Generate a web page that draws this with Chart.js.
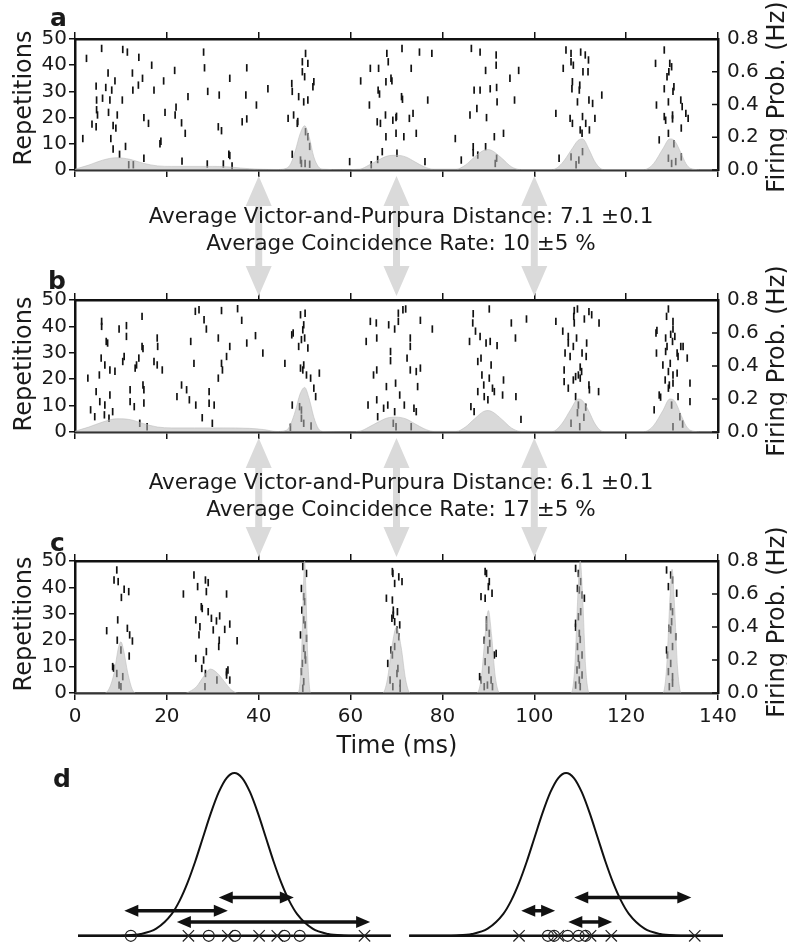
<!DOCTYPE html>
<html>
<head>
<meta charset="utf-8">
<script src="https://cdn.jsdelivr.net/npm/chart.js@4.4.1/dist/chart.umd.min.js"></script>
<style>
  body { margin: 0; background: #fff; }
  #fig { position: relative; width: 787px; height: 945px; overflow: hidden; font-family: "DejaVu Sans", sans-serif; color: #1a1a1a; }
  #fig canvas { position: absolute; }
  .lbl { position: absolute; white-space: nowrap; }
  .letter { font-weight: bold; font-size: 25px; line-height: 25px; }
  .rot { font-size: 24px; transform: translate(-50%, -50%) rotate(-90deg); }
  .xlab { font-size: 24px; transform: translate(-50%, -50%); }
  .note { font-size: 21.5px; line-height: 27px; text-align: center; transform: translateX(-50%); }
</style>
</head>
<body>
<div id="fig">
  <canvas id="panelA" width="787" height="200" style="left:0;top:0"></canvas>
  <canvas id="panelB" width="787" height="201" style="left:0;top:261px"></canvas>
  <canvas id="panelC" width="787" height="221" style="left:0;top:522px"></canvas>
  <canvas id="gapAB" width="787" height="120" style="left:0;top:176px"></canvas>
  <canvas id="gapBC" width="787" height="119" style="left:0;top:438px"></canvas>
  <canvas id="panelDL" width="400" height="185" style="left:0;top:760px"></canvas>
  <canvas id="panelDR" width="387" height="185" style="left:400px;top:760px"></canvas>

  <div class="lbl letter" style="left:50px;top:5px">a</div>
  <div class="lbl letter" style="left:48px;top:268px">b</div>
  <div class="lbl letter" style="left:50px;top:530px">c</div>
  <div class="lbl letter" style="left:53px;top:766px">d</div>

  <div class="lbl rot" style="left:23px;top:98px">Repetitions</div>
  <div class="lbl rot" style="left:23px;top:364px">Repetitions</div>
  <div class="lbl rot" style="left:23px;top:624px">Repetitions</div>
  <div class="lbl rot" style="left:776px;top:97px">Firing Prob. (Hz)</div>
  <div class="lbl rot" style="left:776px;top:361px">Firing Prob. (Hz)</div>
  <div class="lbl rot" style="left:776px;top:622px">Firing Prob. (Hz)</div>
  <div class="lbl xlab" style="left:397px;top:745px">Time (ms)</div>

  <div class="lbl note" style="left:401px;top:202px">Average Victor-and-Purpura Distance: 7.1 ±0.1<br>Average Coincidence Rate: 10 ±5 %</div>
  <div class="lbl note" style="left:401px;top:468px">Average Victor-and-Purpura Distance: 6.1 ±0.1<br>Average Coincidence Rate: 17 ±5 %</div>
</div>

<script>
// Axis ticks
const repTicks = [0, 10, 20, 30, 40, 50];
const probTicks = [0, 0.2, 0.4, 0.6, 0.8];
const timeTicks = [0, 20, 40, 60, 80, 100, 120, 140];

// Gray arrows linking the panels (ms)
const arrowTimes = [40, 70, 100];

// Firing probability curves (ms, Hz)
const rateTimesA = [0, 3, 6, 9, 12, 15, 18, 21, 25, 30, 33, 36, 40, 44, 46, 47, 48, 49, 50, 51, 52, 53, 54, 58, 62, 64, 66, 68, 70, 72, 74, 76, 78, 83, 85, 87, 89, 90, 91, 93, 95, 97, 104, 106, 108, 109.5, 110.5, 112, 113, 114, 115, 124, 126, 128, 129.5, 130.5, 132, 133, 134, 136, 140];
const rateA = [0.005, 0.03, 0.06, 0.075, 0.065, 0.04, 0.025, 0.022, 0.022, 0.022, 0.02, 0.012, 0.005, 0.003, 0.01, 0.04, 0.12, 0.22, 0.27, 0.2, 0.08, 0.02, 0.005, 0.002, 0.005, 0.03, 0.06, 0.085, 0.09, 0.08, 0.05, 0.02, 0.005, 0.005, 0.03, 0.08, 0.12, 0.125, 0.115, 0.07, 0.02, 0.003, 0.003, 0.04, 0.12, 0.18, 0.19, 0.12, 0.06, 0.02, 0.003, 0.003, 0.04, 0.13, 0.19, 0.18, 0.1, 0.04, 0.01, 0.002, 0.002];

const rateTimesB = [0, 3, 6, 9, 12, 15, 18, 21, 26, 32, 38, 41, 44, 46, 47, 48, 49, 50, 51, 52, 53, 54, 60, 62, 64, 66, 68, 70, 72, 74, 76, 78, 83, 85, 87, 89, 90, 91, 93, 95, 97, 104, 106, 108, 109.5, 110.5, 112, 113, 114, 115, 124, 126, 128, 129.5, 130.5, 132, 133, 134, 136, 140];
const rateB = [0.005, 0.03, 0.06, 0.08, 0.075, 0.05, 0.03, 0.025, 0.025, 0.025, 0.022, 0.015, 0.003, 0.01, 0.05, 0.13, 0.23, 0.27, 0.2, 0.09, 0.02, 0.003, 0.002, 0.005, 0.03, 0.06, 0.085, 0.09, 0.08, 0.05, 0.02, 0.004, 0.004, 0.03, 0.08, 0.125, 0.13, 0.12, 0.075, 0.025, 0.004, 0.004, 0.05, 0.14, 0.2, 0.19, 0.12, 0.06, 0.02, 0.003, 0.003, 0.04, 0.13, 0.2, 0.19, 0.1, 0.04, 0.01, 0.002, 0.002];

const rateTimesC = [0, 6.5, 7.5, 8.5, 9.5, 10, 10.5, 11.5, 12.5, 13.5, 24, 25, 26.5, 28, 29.5, 31, 32.5, 34, 35.5, 48.5, 49.3, 49.7, 50, 50.3, 50.7, 51.3, 67, 68, 69, 70, 71, 72, 73, 87.5, 88.5, 89.3, 90, 90.7, 91.5, 92.5, 108, 108.8, 109.5, 110, 110.5, 111.2, 112, 128, 128.8, 129.5, 130, 130.5, 131.2, 132, 140];
const rateC = [0, 0, 0.03, 0.12, 0.28, 0.31, 0.27, 0.12, 0.02, 0, 0, 0.01, 0.04, 0.1, 0.145, 0.12, 0.07, 0.02, 0, 0, 0.2, 0.6, 0.8, 0.6, 0.2, 0, 0, 0.08, 0.28, 0.4, 0.28, 0.08, 0, 0, 0.1, 0.35, 0.5, 0.35, 0.1, 0, 0, 0.15, 0.6, 0.8, 0.6, 0.15, 0, 0, 0.15, 0.55, 0.75, 0.55, 0.15, 0, 0];

// Spike rasters [time (ms), repetition]
const spikesA = [
  [2.5, 42.6], [5.8, 46.4], [10.4, 46], [11.4, 45], [13.9, 43], [16.7, 40], [21.7, 38], [28, 45], [28.2, 39], [37.4, 39],
  [7.2, 37], [8.7, 34], [12.5, 37], [14.7, 35], [19.3, 34], [33.7, 35],
  [4.6, 32], [6.7, 31.5], [8, 30.5], [13.8, 32.4], [12.6, 30.5], [17.2, 30.5], [28.9, 30], [31.4, 28.6], [37.2, 28.6], [42, 31], [24.6, 28],
  [4.7, 26.7], [4.7, 23], [4.9, 21], [7.6, 26.7], [10.3, 26.7], [6, 27.4], [22, 24], [19.6, 22], [21.8, 21], [7.3, 22], [9.2, 21], [39.5, 24.8],
  [15, 20], [16, 17.8], [23.2, 18], [3.7, 17.5], [4.6, 16.5], [8.3, 17], [8.9, 16], [31.2, 16.5], [31.9, 15], [24, 14], [36.4, 18.4], [37.4, 19.5],
  [1.7, 12], [7.8, 12], [11, 9], [18.5, 10], [18.7, 11], [8.3, 8], [9.7, 6], [33.5, 6], [33.7, 5.5], [15, 4.5], [23.3, 3.4], [12.7, 2], [11.7, 2], [28.8, 2.3], [32.3, 2.3], [34.2, 1.5], [59.8, 3.2],
  [47.2, 33], [47.3, 30], [49.5, 41.3], [50.2, 44.5], [50.7, 40.7], [49.5, 37.5], [50, 35.6], [52, 33.7], [51.8, 31.8], [49.8, 26], [50.7, 26.7], [48.7, 28],
  [46.4, 19.7], [47.6, 21], [48.4, 17.8], [48.5, 18.5], [50.2, 14.6], [50.7, 12.7], [51.1, 9], [47.3, 6], [49.1, 3.8], [49.3, 2.5], [51.1, 2.2], [50.1, 2.5],
  [62.2, 34], [64.3, 38.8], [66.1, 38.8], [67.9, 44.5], [68.2, 41.3], [64.1, 24.8], [66, 30.5], [66.3, 29], [67.7, 33.7], [68.8, 35], [65.8, 18.4], [66.5, 17.8],
  [67.7, 12.7], [66.9, 7], [65.9, 4], [64.5, 2], [69.9, 20], [69.9, 14], [71.2, 46.4], [75, 45], [77.7, 44.5], [73.2, 38.8], [69, 34], [71.1, 28], [71.3, 27],
  [76.8, 26.7], [67.6, 21], [69.2, 19], [70, 20.5], [72.8, 19.7], [73.6, 21.6], [71.6, 12.7], [74.3, 14], [70.1, 6.4], [76.2, 3.2],
  [86.3, 46.4], [88.2, 45], [91.7, 43.9], [91.7, 40], [89.4, 38], [96.6, 38], [94.7, 35], [86.9, 30.5], [88.2, 30.5], [90.4, 31], [91.8, 31.5], [95.7, 26.7],
  [87.5, 23.5], [89.6, 20], [91.9, 26], [86, 21], [91.3, 12.7], [93.3, 14], [82.8, 12], [86.7, 8.9], [86.7, 6.6], [89.4, 8.9], [84.1, 3.8], [87.7, 5.7], [91.8, 4.5], [91.5, 2.5],
  [106.9, 45.8], [108, 44.5], [110.1, 45], [111.1, 43.9], [108, 41.3], [108.5, 40], [106.3, 38.8], [111.8, 42], [110.6, 37.5], [111.7, 37.5], [108.3, 33.7], [108.2, 31],
  [109.9, 32.4], [109.8, 30.5], [111.9, 26.7], [112.7, 25.4], [109.4, 26], [114.7, 28.6], [104.7, 21.6], [107.8, 19.7], [108.3, 17.8], [110.5, 20.4], [111.2, 17.8],
  [113.2, 19.7], [110, 15.3], [110.4, 14], [112, 15.3], [105.4, 4.5], [108, 5], [109.7, 3.8], [109.1, 2], [110.5, 7],
  [128.3, 45.8], [126.4, 40.7], [129.5, 40.7], [129.9, 39.4], [129.3, 37.5], [128.9, 35.6], [130.4, 31.8], [130.2, 30], [128.3, 31], [126.6, 24.8], [129.2, 26],
  [131.9, 26.7], [132.2, 24.2], [128.3, 20.4], [128.6, 19], [130.1, 21], [130.1, 19.5], [133, 21.6], [133.5, 19.7], [132, 16], [129.2, 14], [127.2, 11.5],
  [130.4, 10], [129.9, 2.5], [130.8, 3.2], [132, 5], [129.2, 4.5]
];

const spikesB = [
  [2.8, 20.4], [3.4, 8.4], [4.3, 5.8], [4.6, 15.3], [5.3, 21.6], [5.8, 41.9], [5.8, 40], [5.7, 28], [6.5, 25.4], [6.5, 10.2], [6.4, 6.5], [7.4, 5.2],
  [6.8, 34.3], [7.1, 33.7], [7.6, 23.5], [7.6, 14], [5.4, 11.5], [8.2, 7.7], [8.7, 23], [9.6, 39], [10.7, 28.6], [10.4, 26.7], [11.2, 40.3], [11.2, 36.2],
  [12, 16], [12, 11.5], [12.9, 9.6], [13.1, 24.2], [13.4, 25.4], [13.9, 28], [14.6, 43.8], [14.6, 32.4], [14.8, 31.6], [14.8, 17.8], [15, 16], [15, 11],
  [14.1, 3.3], [15.7, 2], [17.2, 26.7], [17.9, 25.4], [17.9, 35.6], [18, 32.4], [19, 23.5], [22.2, 13.4], [23.2, 17.8], [24.3, 16], [24.9, 12.2],
  [25.2, 34.3], [25.9, 26], [26.2, 45.7], [27, 46.3], [26.3, 10.2], [27.7, 5.4], [28.1, 42.5], [28.6, 39], [29.2, 15.3], [29.2, 10.9], [30.3, 10.2],
  [29.9, 3.3], [31.2, 20.4], [31.2, 35.6], [31.9, 46], [31.9, 26], [32.1, 23.5], [33, 28.6], [33.7, 32.4], [35.4, 46.7], [36.3, 42.3], [37.4, 33.7],
  [39.3, 36.5], [40.9, 29.9],
  [45.7, 26], [47.2, 36.8], [47.5, 37.5], [48.7, 32.4], [49.1, 44.4], [50.1, 45], [49.8, 40.6], [49.6, 38.7], [49.3, 35], [50, 35.6], [50.7, 31.8],
  [49.1, 24.2], [49.6, 23.5], [49.8, 25.4], [50.4, 21.6], [51.3, 20.4], [53.2, 22.3], [52, 16.6], [52.4, 13.4], [47.3, 10.2], [48.9, 9.6], [49.3, 8.3],
  [49.3, 5.2], [49.8, 3.3], [51.4, 2.3], [46.9, 1.8],
  [63.4, 34.3], [63.8, 10.2], [64.3, 41.9], [65.6, 41.3], [65.7, 35.6], [65, 21.6], [65.7, 23.5], [65.7, 12.2], [65.9, 5.8], [67.2, 9], [68.1, 10.2],
  [68.3, 40.6], [69.6, 39], [70.4, 45], [70.4, 41.9], [71.4, 46.3], [72, 46.6], [68.7, 30.5], [68.7, 27], [69.8, 18.5], [70.7, 14], [69.6, 7.7],
  [69.3, 3.3], [71.7, 10.2], [72.3, 28], [73, 35.6], [73, 32.4], [73, 23.5], [74.3, 22.9], [75.2, 24.2], [74.6, 17.2], [73.8, 9], [74.3, 7.7],
  [73.2, 2], [75.2, 42.3], [77.8, 39], [69.9, 2], [67.8, 17.2],
  [86.7, 44.8], [90.2, 46.6], [86.6, 41.3], [87.2, 38.2], [88.2, 36.2], [85.9, 34.3], [89.5, 33.7], [90.4, 34.3], [91.9, 32.7], [95, 41.3], [95.9, 35.6],
  [98.3, 42.8], [87.7, 26.7], [88.4, 28], [88.6, 21.6], [90.6, 25.4], [90.2, 20.4], [89, 17.8], [90.9, 16.6], [93.3, 19.7], [87.7, 15.3], [89.1, 13.4],
  [89.9, 12.2], [91.3, 15.3], [93.1, 14], [96, 13.4], [86.2, 9.6], [86.9, 7.7], [97.1, 4.8],
  [104.7, 41.9], [108.7, 46], [109.4, 46.6], [108.6, 43.8], [111.9, 45.6], [112.5, 44.4], [110.9, 42.8], [114.1, 41.3], [108.7, 41.3], [106.2, 38.2],
  [107.4, 36.2], [107.4, 33.7], [109.2, 35.6], [111.4, 33.7], [108.5, 32.4], [106.7, 29.9], [107.8, 28.6], [110.4, 29.9], [111.3, 28.6], [110, 24.6],
  [110.3, 22.9], [106.5, 23.5], [109, 21], [109.6, 21.6], [108.5, 19.7], [106.5, 19.1], [107.4, 16.6], [110, 20.4], [111.9, 17.8], [112, 16], [114, 15.3],
  [109, 13.4], [109.6, 10.2], [111.2, 9.4], [109.4, 7.3], [110.8, 5.6], [108, 3.3], [109.9, 2],
  [129.2, 46.6], [128.8, 43.8], [130.2, 41.9], [130.2, 39], [126.5, 37.5], [126.7, 38.5], [129.7, 37], [130.6, 36.2], [128.6, 35.6], [130.1, 34.3],
  [131.9, 32.4], [132.4, 32.4], [128.9, 32.4], [128.6, 30.5], [126.6, 29.9], [131.1, 29.9], [131.3, 28.6], [133.3, 28], [129.6, 26], [128, 25.4],
  [129.2, 22.9], [130.2, 21.6], [131.1, 22.3], [128.5, 19.7], [129.4, 17.8], [130.2, 18.5], [129.2, 16.6], [133.9, 18.5], [127.2, 14], [127.5, 13.2],
  [131.3, 13.4], [133.9, 11.5], [126.1, 8.4], [129.9, 10.2], [131.7, 5.8], [130.2, 2], [132.3, 3]
];

const spikesC = [
  [9.1, 46.6], [8.5, 42.8], [9.4, 42.2], [10.7, 39.3], [11.7, 38.4], [10.1, 36.2], [9.3, 27.7], [6.9, 23.6], [11.4, 24.5], [11.9, 22], [12.5, 19.7],
  [9.2, 20], [10, 16.3], [11.8, 14], [8.2, 10], [8.4, 9.4], [9.1, 7.4], [10.4, 6.2], [9.6, 3], [10, 2.4],
  [25.9, 44.7], [26.7, 40.3], [28.4, 42.8], [29, 41.8], [28.6, 38.4], [23.6, 37.5], [33, 37.5], [27.5, 32.7], [27.7, 32], [29, 30.8], [26.3, 27.7],
  [29.7, 28.3], [31.5, 29.2], [30.8, 27.3], [33.7, 26.1], [27.2, 25.1], [30.1, 23.9], [27, 22], [32.6, 24.1], [31.4, 20], [35.3, 19.8], [28.6, 15.7],
  [31.3, 17.6], [28, 12.5], [26.3, 13.1], [27.6, 9.3], [28.4, 7.4], [33, 8], [33.3, 8.7], [33.7, 4.9], [33, 6.8], [30.9, 4.9], [28.3, 2.4],
  [49.6, 47.9], [50.4, 45.3], [49.3, 39.6], [49.8, 36.5], [50, 34.6], [49.4, 31.4], [49.8, 27.7], [50.1, 25.8], [49.1, 22], [50.4, 20.7], [49.8, 16.9],
  [50.1, 14.4], [49.5, 11.2], [49.3, 8.1], [49.8, 4.3], [49.6, 1.8], [50.2, 12.5],
  [69.1, 46], [69.6, 41.5], [69.2, 45.3], [70.5, 44], [71.2, 42.2], [67.8, 35.9], [69.1, 35.2], [69.3, 31.4], [69.3, 29.5], [70.2, 30.8], [69, 28.3],
  [69.6, 27], [70.7, 25.8], [70.5, 21.3], [70.1, 23.9], [68.1, 11.2], [69.6, 17.6], [69.1, 14.4], [70.3, 9.3], [68.6, 4.9], [69.2, 2.4], [70.8, 3.7],
  [70.8, 1.8], [70.1, 7.4], [68.8, 16.3],
  [89.3, 46], [89.6, 45.3], [90.2, 42.2], [90, 40.3], [88.4, 36.5], [89.3, 35.9], [90.8, 37.8], [89.6, 27.7], [89.6, 24.9], [90.2, 22.6], [89.1, 20],
  [90.3, 18.8], [91.3, 14.4], [91.7, 15], [89.9, 16.3], [88.1, 6.2], [88.4, 4.9], [89.3, 11.9], [90.1, 8.7], [90.6, 4.9], [89.8, 3], [89.1, 2.4], [90.9, 2.4],
  [109, 47.2], [109.6, 45.3], [110.1, 42.2], [109.4, 39.6], [109.8, 39], [110.9, 35.9], [110.4, 37.1], [109, 26.4], [109, 24.9], [110.1, 30.8],
  [109.6, 28.9], [109.8, 22.6], [110, 20.3], [109.4, 17.6], [110.4, 14.4], [109.6, 13.1], [109.8, 10.6], [109.3, 8.7], [110.4, 6.8], [109.8, 4.9],
  [110, 2.4], [109, 3],
  [128.8, 46.6], [129.7, 44.7], [130.1, 42.8], [129.2, 40.3], [131, 37.8], [129.7, 32.7], [130.1, 30.8], [129.9, 27], [129.3, 24.5], [129.7, 23.9],
  [130.8, 21.3], [128.8, 16.3], [129, 14.4], [130.1, 17.6], [129.7, 11.2], [129.2, 8.1], [130.1, 6.2], [130.1, 3.7], [129.4, 2.4]
];

// Panel d: Gaussian kernel and spike pairs
const kernelX = [0, 0.5, 1, 1.5, 2, 2.5, 3, 3.25, 3.5, 3.75, 4, 4.25, 4.5, 4.75, 5, 5.25, 5.5, 5.75, 6, 6.25, 6.5, 6.75, 7, 7.5, 8, 8.5, 9, 9.5, 10];
const kernelY = [0, 0, 0.0003, 0.002, 0.011, 0.044, 0.135, 0.216, 0.325, 0.458, 0.607, 0.755, 0.882, 0.969, 1, 0.969, 0.882, 0.755, 0.607, 0.458, 0.325, 0.216, 0.135, 0.044, 0.011, 0.002, 0.0003, 0, 0];

const circlesLeft = [1.69, 4.18, 5.02, 6.6, 7.09];
const crossesLeft = [3.53, 4.79, 5.79, 6.37, 9.16];
const arrowFromLeft = [1.48, 4.5, 3.16];
const arrowToLeft = [4.79, 6.9, 9.34];
const arrowLevelLeft = [0.154, 0.236, 0.085];

const circlesRight = [4.42, 4.62, 5.05, 5.4, 5.62];
const crossesRight = [3.5, 4.75, 5.78, 6.44, 9.1];
const arrowFromRight = [5.26, 3.57, 5.07];
const arrowToRight = [8.99, 4.65, 6.47];
const arrowLevelRight = [0.236, 0.154, 0.085];

Chart.defaults.font.family = "'DejaVu Sans', sans-serif";
Chart.defaults.color = "#1a1a1a";

const FILL = "rgba(185, 185, 185, 0.55)";
const TICK_FONT = { family: "'DejaVu Sans', sans-serif", size: 20 };

// Right axis ticks point into the plot
const inwardTicks = {
  id: "inwardTicks",
  afterDraw(chart) {
    const s = chart.scales.y1;
    if (!s) return;
    const ctx = chart.ctx;
    ctx.save();
    ctx.strokeStyle = "#111";
    ctx.lineWidth = 1.5;
    s.ticks.forEach((t) => {
      const py = s.getPixelForValue(t.value);
      ctx.beginPath();
      ctx.moveTo(s.left, py);
      ctx.lineTo(s.left - 6, py);
      ctx.stroke();
    });
    ctx.restore();
  },
};

// Big light gray double arrows between panels
const grayArrows = {
  id: "grayArrows",
  afterDatasetsDraw(chart, args, opts) {
    const { ctx } = chart;
    const x = chart.scales.x;
    const y = chart.scales.y;
    const top = y.getPixelForValue(1);
    const bot = y.getPixelForValue(0);
    const head = 30, hw = 13, sw = 3.5;
    ctx.save();
    ctx.fillStyle = "#dadada";
    opts.times.forEach((t) => {
      const px = x.getPixelForValue(t);
      ctx.beginPath();
      ctx.moveTo(px, top);
      ctx.lineTo(px + hw, top + head);
      ctx.lineTo(px + sw, top + head);
      ctx.lineTo(px + sw, bot - head);
      ctx.lineTo(px + hw, bot - head);
      ctx.lineTo(px, bot);
      ctx.lineTo(px - hw, bot - head);
      ctx.lineTo(px - sw, bot - head);
      ctx.lineTo(px - sw, top + head);
      ctx.lineTo(px - hw, top + head);
      ctx.closePath();
      ctx.fill();
    });
    ctx.restore();
  },
};

// Black double arrows in panel d
const pairArrows = {
  id: "pairArrows",
  afterDatasetsDraw(chart, args, opts) {
    const { ctx } = chart;
    const x = chart.scales.x;
    const y = chart.scales.y;
    const head = 14, hw = 6;
    ctx.save();
    ctx.fillStyle = "#111";
    ctx.strokeStyle = "#111";
    ctx.lineWidth = 3.5;
    opts.from.forEach((f, i) => {
      const x1 = x.getPixelForValue(f);
      const x2 = x.getPixelForValue(opts.to[i]);
      const py = y.getPixelForValue(opts.level[i]);
      ctx.beginPath();
      ctx.moveTo(x1 + head - 1, py);
      ctx.lineTo(x2 - head + 1, py);
      ctx.stroke();
      ctx.beginPath();
      ctx.moveTo(x1, py);
      ctx.lineTo(x1 + head, py - hw);
      ctx.lineTo(x1 + head, py + hw);
      ctx.closePath();
      ctx.fill();
      ctx.beginPath();
      ctx.moveTo(x2, py);
      ctx.lineTo(x2 - head, py - hw);
      ctx.lineTo(x2 - head, py + hw);
      ctx.closePath();
      ctx.fill();
    });
    ctx.restore();
  },
};

function useTicks(values) {
  return (scale) => {
    scale.ticks = values.map((v) => ({ value: v }));
  };
}

function rasterPanel(id, spikes, rateT, rateP, showTimeLabels) {
  const canvas = document.getElementById(id);
  const bottomBox = showTimeLabels ? 50 : 30;
  return new Chart(canvas.getContext("2d"), {
    type: "scatter",
    data: {
      datasets: [
        {
          type: "line",
          data: rateT.map((t, i) => ({ x: t, y: rateP[i] })),
          yAxisID: "y1",
          fill: "origin",
          backgroundColor: FILL,
          borderColor: FILL,
          borderWidth: 1,
          pointRadius: 0,
          cubicInterpolationMode: "monotone",
          order: 0,
        },
        {
          data: spikes.map(([t, r]) => ({ x: t, y: r })),
          yAxisID: "y",
          pointStyle: "line",
          pointRotation: 90,
          pointRadius: 3.7,
          pointBorderColor: "#111",
          borderColor: "#111",
          pointBorderWidth: 1.7,
          showLine: false,
          order: 1,
        },
      ],
    },
    options: {
      responsive: false,
      animation: false,
      events: [],
      layout: { padding: 0 },
      plugins: { legend: { display: false }, tooltip: { enabled: false } },
      scales: {
        x: {
          type: "linear",
          position: "bottom",
          min: 0,
          max: 140,
          afterBuildTicks: useTicks(timeTicks),
          ticks: { display: showTimeLabels, autoSkip: false, font: TICK_FONT, color: "#1a1a1a", padding: 5, maxRotation: 0 },
          grid: { drawOnChartArea: false, drawTicks: true, tickLength: 7, color: "#111", lineWidth: 1.5 },
          border: { display: true, color: "#333", width: 2.5 },
          afterFit: (s) => { s.height = bottomBox; },
        },
        xTop: {
          type: "linear",
          axis: "x",
          position: "top",
          min: 0,
          max: 140,
          afterBuildTicks: useTicks(timeTicks),
          ticks: { display: false, autoSkip: false },
          grid: { drawOnChartArea: false, drawTicks: true, tickLength: 7, color: "#111", lineWidth: 1.5 },
          border: { display: true, color: "#111", width: 2.5 },
          afterFit: (s) => { s.height = 39; },
        },
        y: {
          type: "linear",
          position: "left",
          min: 0,
          max: 50,
          afterBuildTicks: useTicks(repTicks),
          ticks: { autoSkip: false, font: TICK_FONT, color: "#1a1a1a", padding: 2 },
          grid: { drawOnChartArea: false, drawTicks: true, tickLength: 6, color: "#111", lineWidth: 1.5 },
          border: { display: true, color: "#111", width: 2.5 },
          afterFit: (s) => { s.width = 75; },
        },
        y1: {
          type: "linear",
          position: "right",
          min: 0,
          max: 0.8,
          afterBuildTicks: useTicks(probTicks),
          ticks: { autoSkip: false, font: TICK_FONT, color: "#1a1a1a", padding: 9, callback: (v) => v.toFixed(1) },
          grid: { drawOnChartArea: false, drawTicks: false },
          border: { display: true, color: "#111", width: 2.5 },
          afterFit: (s) => { s.width = 69; },
        },
      },
    },
    plugins: [inwardTicks],
  });
}

function arrowGap(id) {
  return new Chart(document.getElementById(id).getContext("2d"), {
    type: "scatter",
    data: { datasets: [{ data: [] }] },
    options: {
      responsive: false,
      animation: false,
      events: [],
      layout: { padding: { left: 75, right: 69, top: 0, bottom: 0 } },
      plugins: { legend: { display: false }, tooltip: { enabled: false }, grayArrows: { times: arrowTimes } },
      scales: {
        x: { type: "linear", display: false, min: 0, max: 140 },
        y: { type: "linear", display: false, min: 0, max: 1 },
      },
    },
    plugins: [grayArrows],
  });
}

function kernelPanel(id, padLeft, padRight, circles, crosses, from, to, level) {
  return new Chart(document.getElementById(id).getContext("2d"), {
    type: "scatter",
    data: {
      datasets: [
        {
          data: circles.map((v) => ({ x: v, y: 0 })),
          pointStyle: "circle",
          pointRadius: 5.5,
          pointBorderColor: "#222",
          pointBackgroundColor: "rgba(0,0,0,0)",
          pointBorderWidth: 1.2,
          clip: false,
        },
        {
          data: crosses.map((v) => ({ x: v, y: 0 })),
          pointStyle: "crossRot",
          pointRadius: 8,
          pointBorderColor: "#222",
          pointBorderWidth: 1.2,
          clip: false,
        },
        {
          type: "line",
          data: kernelX.map((v, i) => ({ x: v, y: kernelY[i] })),
          borderColor: "#111",
          borderWidth: 2,
          pointRadius: 0,
          cubicInterpolationMode: "monotone",
          clip: false,
        },
        {
          type: "line",
          data: [{ x: 0, y: 0 }, { x: 10, y: 0 }],
          borderColor: "#111",
          borderWidth: 2.5,
          pointRadius: 0,
          clip: false,
        },
      ],
    },
    options: {
      responsive: false,
      animation: false,
      events: [],
      layout: { padding: { left: padLeft, right: padRight, top: 13, bottom: 8 } },
      plugins: {
        legend: { display: false },
        tooltip: { enabled: false },
        pairArrows: { from: from, to: to, level: level },
      },
      scales: {
        x: { type: "linear", display: false, min: 0, max: 10 },
        y: { type: "linear", display: false, min: 0, max: 1 },
      },
    },
    plugins: [pairArrows],
  });
}

rasterPanel("panelA", spikesA, rateTimesA, rateA, false);
rasterPanel("panelB", spikesB, rateTimesB, rateB, false);
rasterPanel("panelC", spikesC, rateTimesC, rateC, true);
arrowGap("gapAB");
arrowGap("gapBC");
kernelPanel("panelDL", 78, 5, circlesLeft, crossesLeft, arrowFromLeft, arrowToLeft, arrowLevelLeft);
kernelPanel("panelDR", 6, 64, circlesRight, crossesRight, arrowFromRight, arrowToRight, arrowLevelRight);
</script>
</body>
</html>
